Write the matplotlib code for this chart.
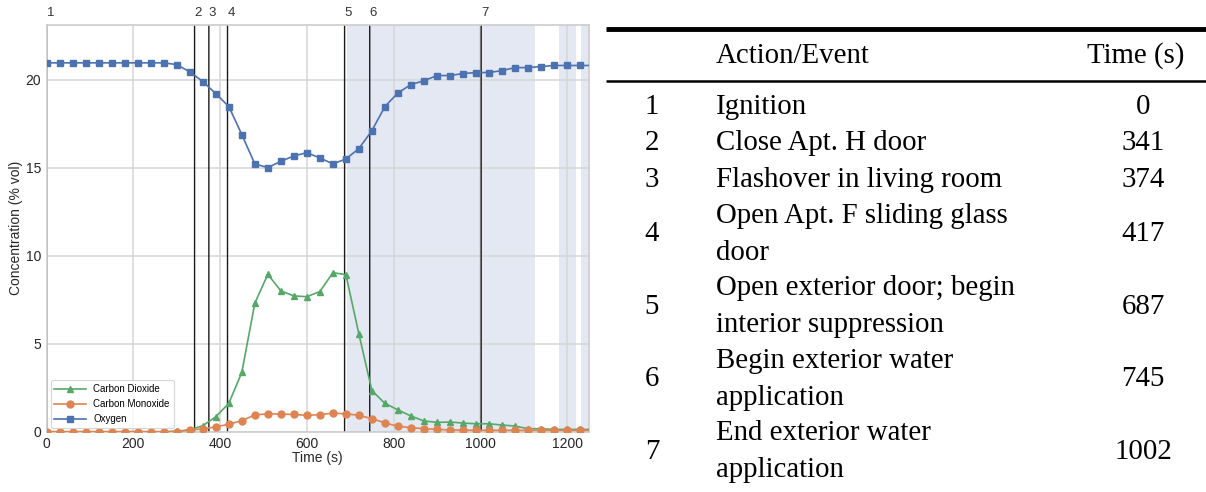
import numpy as np
import matplotlib
matplotlib.use('Agg')
import matplotlib.pyplot as plt
from matplotlib.transforms import offset_copy

# time stamps of the samples (s); last point only carries the line to the edge
time_s = [0, 30, 60, 90, 120, 150, 180, 210, 240, 270, 300, 330, 360, 390, 420,
          450, 480, 510, 540, 570, 600, 630, 660, 690, 720, 750, 780, 810, 840,
          870, 900, 930, 960, 990, 1020, 1050, 1080, 1110, 1140, 1170, 1200,
          1230, 1250]

carbon_dioxide = [0.0, 0.0, 0.0, 0.0, 0.0, 0.0, 0.0, 0.0, 0.0, 0.0, 0.03, 0.1,
                  0.34, 0.85, 1.61, 3.37, 7.3, 8.94, 8.0, 7.71, 7.67, 7.96,
                  9.03, 8.92, 5.55, 2.33, 1.61, 1.24, 0.89, 0.61, 0.53, 0.55,
                  0.49, 0.45, 0.45, 0.38, 0.32, 0.17, 0.17, 0.13, 0.13, 0.13,
                  0.13]

carbon_monoxide = [0.0, 0.0, 0.0, 0.0, 0.0, 0.0, 0.0, 0.0, 0.0, 0.0, 0.0, 0.11,
                   0.15, 0.28, 0.42, 0.63, 0.95, 1.02, 1.0, 0.98, 0.93, 0.97,
                   1.05, 1.02, 0.93, 0.74, 0.5, 0.31, 0.23, 0.17, 0.13, 0.1,
                   0.09, 0.08, 0.08, 0.08, 0.08, 0.08, 0.08, 0.08, 0.08, 0.08,
                   0.08]

oxygen = [20.95, 20.95, 20.95, 20.95, 20.95, 20.95, 20.95, 20.95, 20.95, 20.95,
          20.85, 20.44, 19.89, 19.2, 18.47, 16.88, 15.21, 15.0, 15.36, 15.66,
          15.85, 15.55, 15.21, 15.49, 16.08, 17.1, 18.47, 19.24, 19.72, 19.93,
          20.23, 20.23, 20.34, 20.4, 20.4, 20.51, 20.68, 20.68, 20.74, 20.8,
          20.8, 20.8, 20.8]

# shaded periods (s)
shade_start = [692, 1182, 1233]
shade_end = [1127, 1220, 1250]

# events
event_num = ['1', '2', '3', '4', '5', '6', '7']
event_name = ['Ignition',
              'Close Apt. H door',
              'Flashover in living room',
              'Open Apt. F sliding glass\ndoor',
              'Open exterior door; begin\ninterior suppression',
              'Begin exterior water\napplication',
              'End exterior water\napplication']
event_time = [0, 341, 374, 417, 687, 745, 1002]

plt.rcParams['font.family'] = ['Liberation Sans', 'DejaVu Sans']

fig = plt.figure(figsize=(12.06, 4.92), dpi=100)
W, H = 1206, 492
ax = fig.add_axes([46.7 / W, (H - 431.7) / H, 542 / W, 406.7 / H])

mark = list(range(len(time_s) - 1))
ax.plot(time_s, carbon_dioxide, color='#55a868', marker='^', ms=5, lw=1.2,
        markevery=mark, label='Carbon Dioxide', zorder=3)
ax.plot(time_s, carbon_monoxide, color='#dd8452', marker='o', ms=5, lw=1.2,
        markevery=mark, label='Carbon Monoxide', zorder=3)
ax.plot(time_s, oxygen, color='#4c72b0', marker='s', ms=5, lw=1.2,
        markevery=mark, label='Oxygen', zorder=3)

for a, b in zip(shade_start, shade_end):
    ax.axvspan(a, b, color='#e4e8f2', lw=0, zorder=0.2)

lab_tr = offset_copy(ax.get_xaxis_transform(), fig=fig, x=0, y=6, units='dots')
for n, t in zip(event_num, event_time):
    ax.axvline(t, color='#1a1a1a', lw=1.0, zorder=2, snap=False)
    ax.text(t, 1.0, n, transform=lab_tr, ha='left', va='bottom',
            fontsize=9.5, color='#333333')

ax.set_xlim(0, 1250)
ax.set_ylim(0, 23.1)
ax.set_xticks([0, 200, 400, 600, 800, 1000, 1200])
ax.set_yticks([0, 5, 10, 15, 20])
ax.set_axisbelow(True)
ax.grid(True, color='#d6d6d6', lw=1.1, zorder=0.5)
ax.tick_params(length=0, labelsize=10, labelcolor='#262626', pad=4)
for s in ax.spines.values():
    s.set_color('#cccccc')
    s.set_linewidth(1.2)
ax.set_xlabel('Time (s)', fontsize=10, color='#262626', labelpad=0)
ax.set_ylabel('Concentration (% vol)', fontsize=10, color='#262626')
ax.yaxis.set_label_coords(-0.043, 0.5)
leg = ax.legend(loc='lower left', fontsize=7, numpoints=1, handlelength=3.2,
                frameon=True, fancybox=True, borderaxespad=0.4)
leg.get_frame().set_edgecolor('#cccccc')
leg.get_frame().set_linewidth(0.8)

# table on the right, laid out in pixel units
tab = fig.add_axes([600 / W, 0, 606 / W, 1])
tab.set_xlim(600, 1206)
tab.set_ylim(492, 0)
tab.axis('off')
serif = ['Liberation Serif', 'DejaVu Serif']
fs = 20.8
tab.hlines(29, 606, 1206, color='k', lw=3.5)
tab.hlines(81, 606, 1206, color='k', lw=1.8)
tab.text(716, 56, 'Action/Event', family=serif, fontsize=fs, ha='left', va='center')
tab.text(1136, 56, 'Time (s)', family=serif, fontsize=fs, ha='center', va='center')

pitch = 36.3
line = 0
for n, name, t in zip(event_num, event_name, event_time):
    k = name.count('\n') + 1
    yc = 107 + pitch * (line + (k - 1) / 2)
    tab.text(652, yc, n, family=serif, fontsize=fs, ha='center', va='center')
    tab.text(716, yc, name, family=serif, fontsize=fs, ha='left', va='center',
             linespacing=1.55)
    tab.text(1143, yc, str(t), family=serif, fontsize=fs, ha='center', va='center')
    line += k

fig.savefig('out.png', dpi=100)
